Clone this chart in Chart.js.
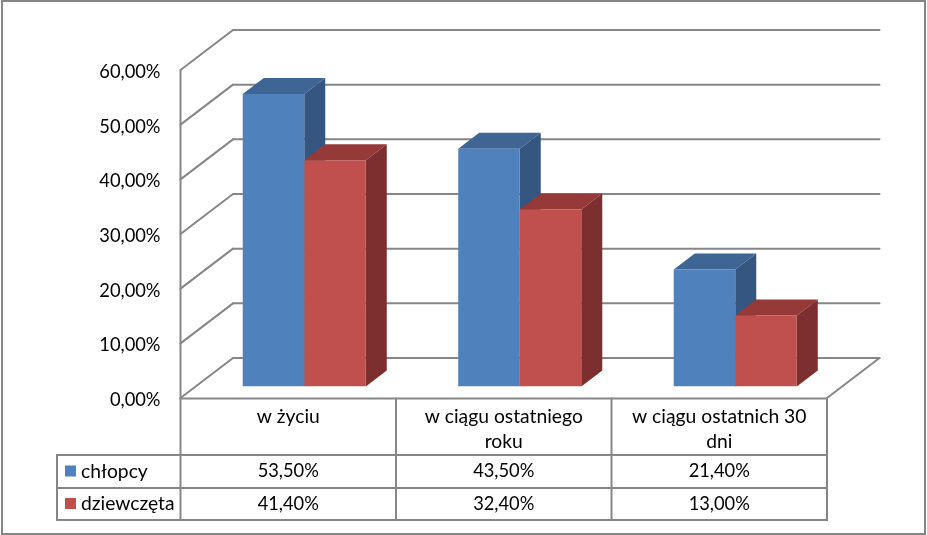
<!DOCTYPE html>
<html>
<head>
<meta charset="utf-8">
<title>chart</title>
<script src="https://cdn.jsdelivr.net/npm/chart.js@4"></script>
<style>
	html, body { margin: 0; padding: 0; background: #fff; }
	canvas { display: block; }
</style>
</head>
<body>
<canvas id="chart" width="927" height="535"></canvas>
<script>
const categories = ['w życiu', ['w ciągu ostatniego', 'roku'], ['w ciągu ostatnich 30', 'dni']];
const seriesNames = ['chłopcy', 'dziewczęta'];
const boys = [53.5, 43.5, 21.4];
const girls = [41.4, 32.4, 13.0];
const tickStep = 10;
const tickMax = 60;

const fontName = 'Lato, Carlito, sans-serif';
const wordSize = 19.3;
const numberSize = 18.3;
const lineColor = '#868686';
const faces = [
	{ front: '#4F81BD', top: '#3F6595', side: '#345680' },
	{ front: '#C0504D', top: '#953A38', side: '#7C2F2E' }
];

let percent = function (v) {
	return v.toFixed(2).replace('.', ',') + '%';
};

// bar depth and wall offsets, all relative to the plane the bars stand on
const barDepth = { x: 21, y: -16 };
const frontWall = { x: -16, y: 11.5 };
const backWall = { x: 36.5, y: -28.5 };

let line = function (ctx, x1, y1, x2, y2) {
	ctx.beginPath();
	ctx.moveTo(x1, y1);
	ctx.lineTo(x2, y2);
	ctx.stroke();
};

let poly = function (ctx, points, color) {
	ctx.fillStyle = color;
	ctx.beginPath();
	points.forEach(function (p, i) {
		if (i === 0) ctx.moveTo(p[0], p[1]);
		else ctx.lineTo(p[0], p[1]);
	});
	ctx.closePath();
	ctx.fill();
};

const walls = {
	id: 'walls',
	beforeDatasetsDraw(chart) {
		const ctx = chart.ctx;
		const area = chart.chartArea;
		const y = chart.scales.y;
		ctx.save();
		ctx.strokeStyle = lineColor;
		ctx.lineWidth = 2;
		ctx.lineCap = 'round';

		// frame round the whole picture
		ctx.strokeRect(2, 1, 923, 533);

		let fx1 = area.left + frontWall.x;
		let fx2 = area.right + frontWall.x;
		let bx1 = area.left + backWall.x;
		let bx2 = area.right + backWall.x;

		y.ticks.forEach(function (t) {
			let p = y.getPixelForValue(t.value);
			line(ctx, fx1, p + frontWall.y, bx1, p + backWall.y);
			line(ctx, bx1, p + backWall.y, bx2, p + backWall.y);
		});
		let floor = y.getPixelForValue(0);
		line(ctx, fx2, floor + frontWall.y, bx2, floor + backWall.y);

		// the box faces of the bars, the fronts come from the library
		chart.data.datasets.forEach(function (ds, i) {
			chart.getDatasetMeta(i).data.forEach(function (bar) {
				let l = bar.x - bar.width / 2;
				let r = bar.x + bar.width / 2;
				let t = bar.y;
				let b = bar.base;
				poly(ctx, [[l, t], [r, t], [r + barDepth.x, t + barDepth.y], [l + barDepth.x, t + barDepth.y]], faces[i].top);
				poly(ctx, [[r, t], [r + barDepth.x, t + barDepth.y], [r + barDepth.x, b + barDepth.y], [r, b]], faces[i].side);
			});
		});
		ctx.restore();
	},
	afterDatasetsDraw(chart) {
		const ctx = chart.ctx;
		const area = chart.chartArea;
		const y = chart.scales.y;
		let x0 = area.left + frontWall.x;
		let colW = (area.right - area.left) / categories.length;
		let top = y.getPixelForValue(0) + frontWall.y + 0.5;
		let rows = [455, 488, 520];
		let left = 57;

		ctx.save();
		ctx.strokeStyle = lineColor;
		ctx.lineWidth = 2;
		ctx.lineCap = 'round';

		line(ctx, x0, y.getPixelForValue(tickMax) + frontWall.y, x0, rows[2]);
		line(ctx, x0, top, x0 + colW * 3, top);
		rows.forEach(function (r) {
			line(ctx, left, r, x0 + colW * 3, r);
		});
		line(ctx, left, rows[0], left, rows[2]);
		for (let c = 1; c <= 3; c++) {
			line(ctx, x0 + colW * c, top, x0 + colW * c, rows[2]);
		}

		ctx.fillStyle = '#000';
		ctx.textBaseline = 'middle';
		chart.data.datasets.forEach(function (ds, i) {
			let cy = (rows[i] + rows[i + 1]) / 2;
			ctx.fillStyle = faces[i].front;
			ctx.fillRect(65, cy - 6, 11, 11);
			ctx.fillStyle = '#000';
			ctx.textAlign = 'left';
			ctx.font = wordSize + 'px ' + fontName;
			ctx.fillText(ds.label, 81, cy);
			ctx.textAlign = 'center';
			ctx.font = numberSize + 'px ' + fontName;
			ds.data.forEach(function (v, c) {
				ctx.fillText(percent(v), x0 + colW * (c + 0.5), cy);
			});
		});
		ctx.restore();
	}
};

const chart = new Chart(document.getElementById('chart').getContext('2d'), {
	type: 'bar',
	data: {
		labels: categories,
		datasets: [
			{ label: seriesNames[0], data: boys, backgroundColor: faces[0].front, borderWidth: 0 },
			{ label: seriesNames[1], data: girls, backgroundColor: faces[1].front, borderWidth: 0 }
		]
	},
	options: {
		responsive: false,
		animation: false,
		events: [],
		categoryPercentage: 0.571,
		barPercentage: 1,
		layout: {
			padding: { left: 0, right: 84, top: 58.5, bottom: 48.5 }
		},
		plugins: {
			legend: { display: false },
			title: { display: false },
			tooltip: { enabled: false }
		},
		scales: {
			x: {
				grid: { display: false, drawTicks: false },
				border: { display: false },
				afterFit(scale) { scale.height = 100; },
				ticks: {
					color: '#000',
					font: { family: fontName, size: wordSize, lineHeight: 1.3 },
					padding: 18,
					labelOffset: frontWall.x,
					maxRotation: 0,
					autoSkip: false
				}
			},
			y: {
				min: 0,
				max: tickMax,
				grid: { display: false, drawTicks: false },
				border: { display: false },
				afterFit(scale) { scale.width = 196.5; },
				ticks: {
					stepSize: tickStep,
					color: '#000',
					font: { family: fontName, size: numberSize },
					padding: 36,
					labelOffset: 13.5,
					callback: function (v) { return percent(v); }
				}
			}
		}
	},
	plugins: [walls]
});
</script>
</body>
</html>
